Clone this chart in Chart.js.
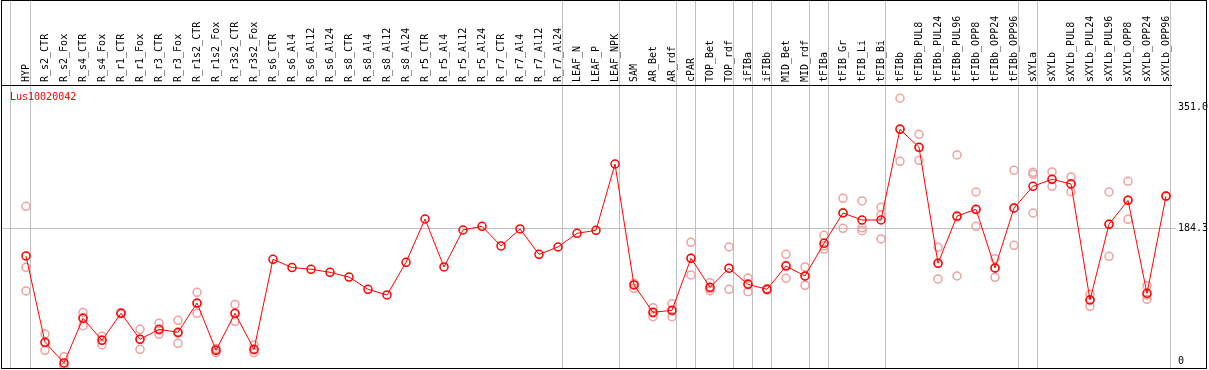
<!DOCTYPE html>
<html>
<head>
<meta charset="utf-8">
<script src="https://cdn.jsdelivr.net/npm/chart.js@4.4.0/dist/chart.umd.min.js"></script>
<style>
  html, body { margin: 0; padding: 0; background: #fff; }
  #wrap { position: relative; width: 1209px; height: 370px; }
  #frame { position: absolute; left: 1px; top: 0; width: 1206px; height: 369px; border: 1px solid #000; box-sizing: border-box; pointer-events: none; }
  canvas { position: absolute; left: 0; top: 0; }
</style>
</head>
<body>
<div id="wrap">
  <canvas id="myChart" width="1209" height="370"></canvas>
  <div id="frame"></div>
</div>
<script>
const geneName = 'Lus10020042';

const categories = ['HYP', 'R_s2_CTR', 'R_s2_Fox', 'R_s4_CTR', 'R_s4_Fox', 'R_r1_CTR', 'R_r1_Fox', 'R_r3_CTR', 'R_r3_Fox',
  'R_r1s2_CTR', 'R_r1s2_Fox', 'R_r3s2_CTR', 'R_r3s2_Fox', 'R_s6_CTR', 'R_s6_Al4', 'R_s6_Al12', 'R_s6_Al24',
  'R_s8_CTR', 'R_s8_Al4', 'R_s8_Al12', 'R_s8_Al24', 'R_r5_CTR', 'R_r5_Al4', 'R_r5_Al12', 'R_r5_Al24',
  'R_r7_CTR', 'R_r7_Al4', 'R_r7_Al12', 'R_r7_Al24', 'LEAF_N', 'LEAF_P', 'LEAF_NPK', 'SAM', 'AR_Bet', 'AR_rdf',
  'cPAR', 'TOP_Bet', 'TOP_rdf', 'iFIBa', 'iFIBb', 'MID_Bet', 'MID_rdf', 'tFIBa', 'tFIB_Gr', 'tFIB_Li', 'tFIB_Bi',
  'tFIBb', 'tFIBb_PUL8', 'tFIBb_PUL24', 'tFIBb_PUL96', 'tFIBb_OPP8', 'tFIBb_OPP24', 'tFIBb_OPP96',
  'sXYLa', 'sXYLb', 'sXYLb_PUL8', 'sXYLb_PUL24', 'sXYLb_PUL96', 'sXYLb_OPP8', 'sXYLb_OPP24', 'sXYLb_OPP96'];

// mean expression per sample (red line)
const means = [146, 26.7, -1.9, 59.8, 29.4, 66.8, 30.8, 44.6, 40.5,
  81, 15.6, 66.8, 17, 141.4, 130, 127.6, 123.4,
  116.9, 99.9, 92.1, 137.2, 197.1, 130.8, 181.9, 187,
  159.8, 183.3, 148.3, 158.4, 177.3, 181.5, 273.1, 105.9, 68.1, 70.9,
  142.8, 102.7, 129, 106.8, 99.9, 132.1, 118.3, 163.5, 205.4, 195.7, 195.7,
  321, 296.2, 135.9, 201.2, 210.5, 129.4, 212.3,
  242.3, 252, 245.5, 85.1, 189.8, 222.9, 94.4, 228.9];

// replicates (pink circles), null = no replicate shown
const rep1 = [214.6, 38, 6.8, 68, 35, 68, 44.6, 52.9, 57,
  95.8, 18, 79, 23, null, null, null, null,
  null, null, null, null, null, null, null, null,
  null, null, null, null, null, null, null, 108.2, 74.5, 80,
  164.9, 109.1, 158.4, 115.5, 101, 148.3, 130.8, 174.6, 225.7, 222, 213.3,
  364, 314.2, 158, 285.6, 234.4, 142.3, 264.4,
  261.6, 262.1, 255.2, 93, 234.4, 249.2, 104.9, 229];
const rep2 = [130.3, 15.6, -8, 49.6, 23.4, 66, 17, 37.7, 25.3,
  66.8, 12.3, 55.7, 12.3, null, null, null, null,
  null, null, null, null, null, null, null, null,
  null, null, null, null, null, null, null, 101.3, 62.1, 62.1,
  119.7, 98, 99.9, 96.6, 99, 115.1, 105.5, 155.6, 184.2, 180.9, 202.6,
  276.8, 278.2, 114.2, 118.3, 187, 116.5, 160.7,
  258.9, 242.3, 234.8, 76.4, 145.5, 196.7, 86.1, 228];
const rep3 = [97.6, 26, -4, 61, 30, 67, 31, 43, 39,
  80, 16, 66, 16, null, null, null, null,
  null, null, null, null, null, null, null, null,
  null, null, null, null, null, null, null, 106, 67, 70,
  143, 101, 129, 108, 100, 133, 118, 160, 206, 185, 169.5,
  322, 296, 136, 200, 210, 129, 212,
  205.4, 252, 246, 86, 190, 223, 92, 229];

// group separators (between sample index positions)
const groupBreaks = [-0.8, 0.25, 28.25, 31.25, 34.25, 35.25, 37.25, 38.25, 39.25, 41.25, 42.25, 45.25, 52.25, 53.25, 60.25];
const yTicks = [0, 184.3, 351.0];

const font = { family: 'DejaVu Sans Mono', size: 10 };
const gridGrey = '#c0c0c0';
const none = 'rgba(0,0,0,0)';

function toPoints(arr) {
  let out = [];
  arr.forEach((v, i) => { if (v !== null) out.push({ x: i, y: v }); });
  return out;
}

const ctx = document.getElementById('myChart');

new Chart(ctx, {
  type: 'line',
  data: {
    datasets: [{
      label: geneName,
      data: toPoints(means),
      borderColor: '#ff0000',
      borderWidth: 1,
      pointRadius: 4,
      pointBorderWidth: 1.5,
      pointBorderColor: '#ff0000',
      pointBackgroundColor: none
    },
    ...[rep1, rep2, rep3].map((r, k) => ({
      label: 'rep' + (k + 1),
      data: toPoints(r),
      showLine: false,
      pointRadius: 4,
      pointBorderWidth: 1.5,
      pointBorderColor: '#f0a0a0',
      pointBackgroundColor: none
    }))]
  },
  options: {
    responsive: false,
    animation: false,
    events: [],
    layout: { autoPadding: false, padding: { left: 2, right: 0, top: 0, bottom: 2 } },
    plugins: {
      tooltip: { enabled: false },
      legend: {
        position: 'chartArea',
        align: 'start',
        labels: {
          boxWidth: 0,
          boxHeight: 188,   // pushes the gene name down into the plot
          padding: 3,
          color: '#ff0000',
          font: font,
          generateLabels: () => [{
            text: geneName, fillStyle: none, strokeStyle: none, lineWidth: 0,
            fontColor: '#ff0000', hidden: false, datasetIndex: 0
          }]
        }
      }
    },
    scales: {
      x: {
        type: 'linear',
        position: 'top',
        min: -1.2632,
        max: 60.263,
        afterBuildTicks: s => {
          let vals = categories.map((c, i) => i).concat(groupBreaks).sort((a, b) => a - b);
          s.ticks = vals.map(v => ({ value: v }));
        },
        afterFit: s => {
          s.height = 85;
          s.paddingLeft = 0;
          s.paddingRight = 0;
        },
        grid: {
          color: c => (c.tick && groupBreaks.includes(c.tick.value)) ? gridGrey : none,
          lineWidth: 1,
          drawTicks: true,
          tickLength: 86
        },
        border: { color: '#000', width: 1 },
        ticks: {
          autoSkip: false,
          minRotation: 90,
          maxRotation: 90,
          padding: -83,
          labelOffset: 12,
          font: font,
          color: '#000',
          callback: v => Number.isInteger(v) ? categories[v] : ''
        }
      },
      y: {
        type: 'linear',
        position: 'right',
        min: -8.85,
        max: 382.3,
        afterBuildTicks: s => { s.ticks = yTicks.map(v => ({ value: v })); },
        afterFit: s => {
          s.width = 38;
          s.paddingTop = 0;
          s.paddingBottom = 0;
        },
        grid: {
          color: c => (c.tick && c.tick.value === 184.3) ? gridGrey : none,
          tickLength: 5
        },
        border: { display: false },
        ticks: {
          padding: 2,
          font: font,
          color: '#000',
          callback: v => v === 0 ? '0' : v.toFixed(1)
        }
      }
    }
  }
});
</script>
</body>
</html>
